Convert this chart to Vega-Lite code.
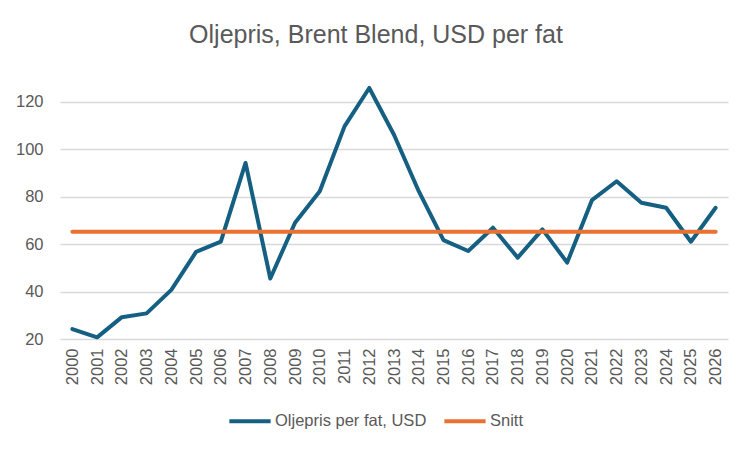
{
  "$schema": "https://vega.github.io/schema/vega-lite/v6.json",
  "width": 668,
  "height": 261,
  "autosize": {"type": "none"},
  "padding": {"left": 60, "top": 78, "right": 24, "bottom": 113},
  "background": "white",
  "title": {
    "text": "Oljepris, Brent Blend, USD per fat",
    "fontSize": 25,
    "fontWeight": "normal",
    "font": "Liberation Sans",
    "color": "#595959",
    "anchor": "middle",
    "dx": -18,
    "offset": 30
  },
  "data": {
    "values": [
      {"year": "2000", "series": "Oljepris per fat, USD", "value": 24.2},
      {"year": "2001", "series": "Oljepris per fat, USD", "value": 20.7},
      {"year": "2002", "series": "Oljepris per fat, USD", "value": 29.2},
      {"year": "2003", "series": "Oljepris per fat, USD", "value": 30.8},
      {"year": "2004", "series": "Oljepris per fat, USD", "value": 40.7},
      {"year": "2005", "series": "Oljepris per fat, USD", "value": 56.7},
      {"year": "2006", "series": "Oljepris per fat, USD", "value": 61.0},
      {"year": "2007", "series": "Oljepris per fat, USD", "value": 94.2},
      {"year": "2008", "series": "Oljepris per fat, USD", "value": 45.5},
      {"year": "2009", "series": "Oljepris per fat, USD", "value": 69.0},
      {"year": "2010", "series": "Oljepris per fat, USD", "value": 82.3},
      {"year": "2011", "series": "Oljepris per fat, USD", "value": 109.6},
      {"year": "2012", "series": "Oljepris per fat, USD", "value": 125.8},
      {"year": "2013", "series": "Oljepris per fat, USD", "value": 106.1},
      {"year": "2014", "series": "Oljepris per fat, USD", "value": 82.3},
      {"year": "2015", "series": "Oljepris per fat, USD", "value": 61.7},
      {"year": "2016", "series": "Oljepris per fat, USD", "value": 57.1},
      {"year": "2017", "series": "Oljepris per fat, USD", "value": 66.9},
      {"year": "2018", "series": "Oljepris per fat, USD", "value": 54.3},
      {"year": "2019", "series": "Oljepris per fat, USD", "value": 66.2},
      {"year": "2020", "series": "Oljepris per fat, USD", "value": 52.2},
      {"year": "2021", "series": "Oljepris per fat, USD", "value": 78.5},
      {"year": "2022", "series": "Oljepris per fat, USD", "value": 86.5},
      {"year": "2023", "series": "Oljepris per fat, USD", "value": 77.4},
      {"year": "2024", "series": "Oljepris per fat, USD", "value": 75.3},
      {"year": "2025", "series": "Oljepris per fat, USD", "value": 61.0},
      {"year": "2026", "series": "Oljepris per fat, USD", "value": 75.3},
      {"year": "2000", "series": "Snitt", "value": 65.2},
      {"year": "2001", "series": "Snitt", "value": 65.2},
      {"year": "2002", "series": "Snitt", "value": 65.2},
      {"year": "2003", "series": "Snitt", "value": 65.2},
      {"year": "2004", "series": "Snitt", "value": 65.2},
      {"year": "2005", "series": "Snitt", "value": 65.2},
      {"year": "2006", "series": "Snitt", "value": 65.2},
      {"year": "2007", "series": "Snitt", "value": 65.2},
      {"year": "2008", "series": "Snitt", "value": 65.2},
      {"year": "2009", "series": "Snitt", "value": 65.2},
      {"year": "2010", "series": "Snitt", "value": 65.2},
      {"year": "2011", "series": "Snitt", "value": 65.2},
      {"year": "2012", "series": "Snitt", "value": 65.2},
      {"year": "2013", "series": "Snitt", "value": 65.2},
      {"year": "2014", "series": "Snitt", "value": 65.2},
      {"year": "2015", "series": "Snitt", "value": 65.2},
      {"year": "2016", "series": "Snitt", "value": 65.2},
      {"year": "2017", "series": "Snitt", "value": 65.2},
      {"year": "2018", "series": "Snitt", "value": 65.2},
      {"year": "2019", "series": "Snitt", "value": 65.2},
      {"year": "2020", "series": "Snitt", "value": 65.2},
      {"year": "2021", "series": "Snitt", "value": 65.2},
      {"year": "2022", "series": "Snitt", "value": 65.2},
      {"year": "2023", "series": "Snitt", "value": 65.2},
      {"year": "2024", "series": "Snitt", "value": 65.2},
      {"year": "2025", "series": "Snitt", "value": 65.2},
      {"year": "2026", "series": "Snitt", "value": 65.2}
    ]
  },
  "mark": {"type": "line", "strokeWidth": 4, "strokeCap": "round", "strokeJoin": "round"},
  "encoding": {
    "x": {
      "field": "year",
      "type": "ordinal",
      "scale": {"type": "point", "padding": 0.5},
      "axis": {
        "title": null,
        "labelAngle": -90,
        "labelAlign": "right",
        "labelBaseline": "middle",
        "labelPadding": 9,
        "labelFontSize": 16.5,
        "labelFont": "Liberation Sans",
        "labelColor": "#595959",
        "ticks": false,
        "domain": false,
        "grid": false
      }
    },
    "y": {
      "field": "value",
      "type": "quantitative",
      "scale": {"domain": [20, 130], "nice": false, "zero": false},
      "axis": {
        "title": null,
        "values": [20, 40, 60, 80, 100, 120],
        "labelFontSize": 16.5,
        "labelFont": "Liberation Sans",
        "labelColor": "#595959",
        "labelPadding": 17,
        "ticks": false,
        "domain": false,
        "gridColor": "#D9D9D9",
        "gridWidth": 1.3
      }
    },
    "color": {
      "field": "series",
      "type": "nominal",
      "scale": {"domain": ["Oljepris per fat, USD", "Snitt"], "range": ["#156082", "#E97132"]},
      "legend": {
        "title": null,
        "orient": "none",
        "legendX": 167,
        "legendY": 320,
        "direction": "horizontal",
        "symbolType": "stroke",
        "symbolSize": 1700,
        "symbolStrokeWidth": 4,
        "labelFontSize": 16.5,
        "labelFont": "Liberation Sans",
        "labelColor": "#595959",
        "labelOffset": 2,
        "columnPadding": 9
      }
    }
  },
  "config": {"view": {"stroke": null}}
}
